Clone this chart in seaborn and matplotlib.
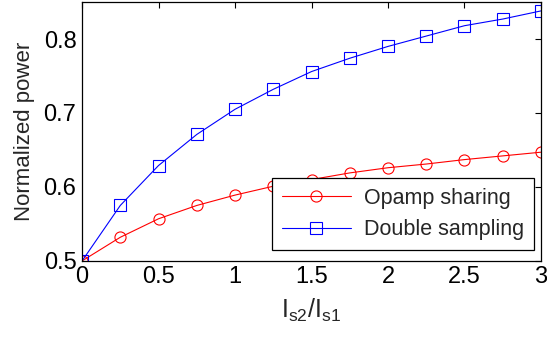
import numpy as np
import pandas as pd
import seaborn as sns
import matplotlib
matplotlib.use("Agg")
from matplotlib import pyplot as plt

# ratio Is2/Is1
ratio = [0, 0.25, 0.5, 0.75, 1.0, 1.25, 1.5, 1.75, 2.0, 2.25, 2.5, 2.75, 3.0]
opamp_sharing = [0.5, 0.532, 0.557, 0.575, 0.589, 0.601, 0.610, 0.619, 0.626,
                 0.631, 0.637, 0.642, 0.647]
double_sampling = [0.5, 0.575, 0.629, 0.671, 0.705, 0.732, 0.756, 0.774, 0.790,
                   0.804, 0.818, 0.827, 0.838]
series_names = ["Opamp sharing", "Double sampling"]
series_colors = ["red", "blue"]

sns.set_style("white")
plt.rcParams["font.family"] = ["Liberation Sans", "DejaVu Sans"]
plt.rcParams["mathtext.fontset"] = "custom"
plt.rcParams["mathtext.rm"] = "Liberation Sans"

fig = plt.figure(figsize=(5.47, 3.38), dpi=100)
ax = fig.add_axes([0.150, 0.228, 0.839, 0.766])

# red circles, blue squares (open markers)
sns.lineplot(x=ratio, y=opamp_sharing, ax=ax, color="red", lw=0.8,
             marker="o", markersize=8, label=series_names[0])
sns.lineplot(x=ratio, y=double_sampling, ax=ax, color="blue", lw=0.8,
             marker="s", markersize=8, label=series_names[1])
for line, c in zip(ax.lines, series_colors):
    line.set_markerfacecolor("none")
    line.set_markeredgecolor(c)
    line.set_markeredgewidth(0.8)

ax.set_xlim(0, 3)
ax.set_ylim(0.5, 0.85)
ax.set_xticks([0, 0.5, 1, 1.5, 2, 2.5, 3])
ax.set_xticklabels(["0", "0.5", "1", "1.5", "2", "2.5", "3"])
ax.set_yticks([0.5, 0.6, 0.7, 0.8])
ax.tick_params(direction="in", top=True, right=True, length=4, width=0.8,
               labelsize=17, colors="black", pad=4)
for s in ax.spines.values():
    s.set_color("black")
    s.set_linewidth(0.9)

ax.set_xlabel(r"$\mathregular{I_{s2}/I_{s1}}$", fontsize=18, labelpad=6)
ax.set_ylabel("Normalized power", fontsize=16, labelpad=6)

leg = ax.legend(loc="lower right", fontsize=15.5, frameon=True, fancybox=False,
                edgecolor="black", framealpha=1, borderpad=0.45,
                handlelength=3.2, handletextpad=0.6, labelspacing=0.5,
                borderaxespad=0, bbox_to_anchor=(0.984, 0.042))
leg.get_frame().set_linewidth(0.9)
for h, c in zip(leg.get_lines(), series_colors):
    h.set_markerfacecolor("none")
    h.set_markeredgecolor(c)
    h.set_markeredgewidth(0.8)

fig.savefig("out.png", dpi=100)
